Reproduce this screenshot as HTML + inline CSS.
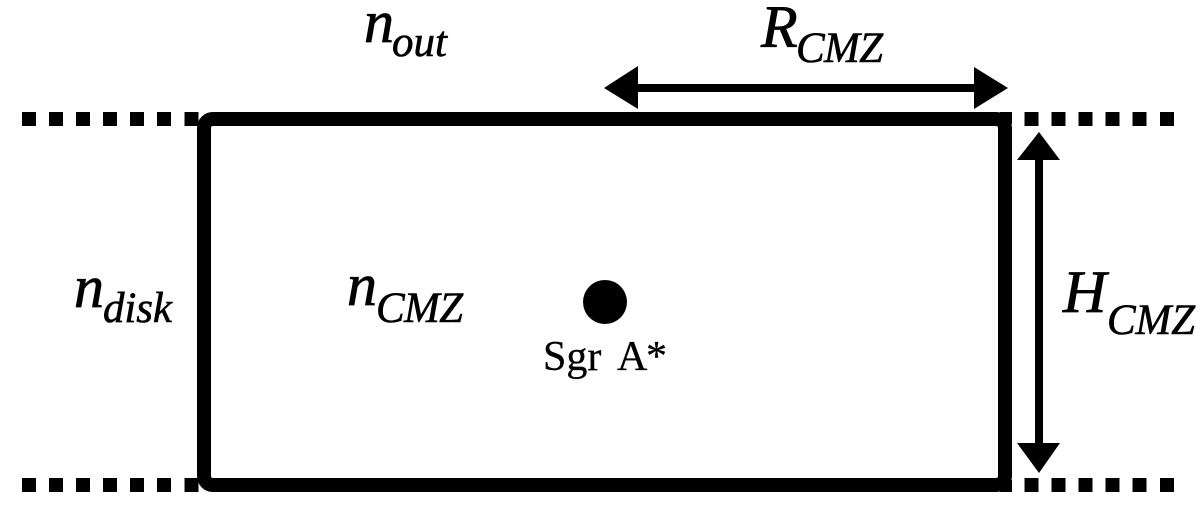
<!DOCTYPE html>
<html>
<head>
<meta charset="utf-8">
<style>
html,body{margin:0;padding:0;background:#fff;}
svg{display:block;}
text{font-family:"Liberation Serif",serif;fill:#000;}
.m{font-style:italic;font-size:60px;stroke:#000;stroke-width:.8px;}
.s{font-style:italic;font-size:43px;stroke:#000;stroke-width:.6px;}
.l{font-size:42px;stroke:#000;stroke-width:.3px;}
</style>
</head>
<body>
<svg width="1200" height="509" viewBox="0 0 1200 509" xmlns="http://www.w3.org/2000/svg">
<rect width="1200" height="509" fill="#fff"/>
<g fill="#000">
<rect x="22" y="112" width="14" height="14"/><rect x="49" y="112" width="14" height="14"/><rect x="76" y="112" width="14" height="14"/><rect x="103" y="112" width="14" height="14"/><rect x="130" y="112" width="14" height="14"/><rect x="157" y="112" width="14" height="14"/><rect x="184.500" y="112" width="14" height="14"/>
<rect x="22" y="478" width="14" height="14"/><rect x="49" y="478" width="14" height="14"/><rect x="76" y="478" width="14" height="14"/><rect x="103" y="478" width="14" height="14"/><rect x="130" y="478" width="14" height="14"/><rect x="157" y="478" width="14" height="14"/><rect x="184.500" y="478" width="14" height="14"/>
<rect x="1024.500" y="112" width="14" height="14"/><rect x="1051.500" y="112" width="14" height="14"/><rect x="1078.500" y="112" width="14" height="14"/><rect x="1105.500" y="112" width="14" height="14"/><rect x="1132.500" y="112" width="14" height="14"/><rect x="1160" y="112" width="14" height="14"/>
<rect x="1024.500" y="478" width="14" height="14"/><rect x="1051.500" y="478" width="14" height="14"/><rect x="1078.500" y="478" width="14" height="14"/><rect x="1105.500" y="478" width="14" height="14"/><rect x="1132.500" y="478" width="14" height="14"/><rect x="1160" y="478" width="14" height="14"/>
</g>
<rect x="204" y="119" width="801" height="366" rx="9" ry="9" fill="none" stroke="#000" stroke-width="14"/>
<rect x="1000" y="112" width="12" height="12" fill="#000"/>
<rect x="1000" y="480" width="12" height="12" fill="#000"/>
<rect x="630" y="84" width="350" height="8" fill="#000"/>
<polygon points="604,88 638,66 638,109" fill="#000"/>
<polygon points="1008,88 974,67 974,109" fill="#000"/>
<rect x="1035" y="155" width="8" height="293" fill="#000"/>
<polygon points="1039,132 1060,160 1017,160" fill="#000"/>
<polygon points="1039,473 1060,443 1017,443" fill="#000"/>
<circle cx="605" cy="302" r="22" fill="#000"/>
<text class="l" x="543" y="370">Sgr</text>
<text class="l" x="617" y="370">A</text>
<text class="l" x="646" y="370">*</text>
<text class="m" x="364" y="42">n</text>
<text class="s" x="392" y="56" textLength="55">out</text>
<text class="m" x="74" y="307">n</text>
<text class="s" x="103" y="322" textLength="69">disk</text>
<text class="m" x="347" y="305">n</text>
<text class="s" x="376" y="322" textLength="87">CMZ</text>
<text class="m" x="1063" y="312">H</text>
<text class="s" x="1107" y="334" textLength="88">CMZ</text>
<text class="m" x="761" y="47">R</text>
<text class="s" x="796" y="62" textLength="87">CMZ</text>
</svg>
</body>
</html>
